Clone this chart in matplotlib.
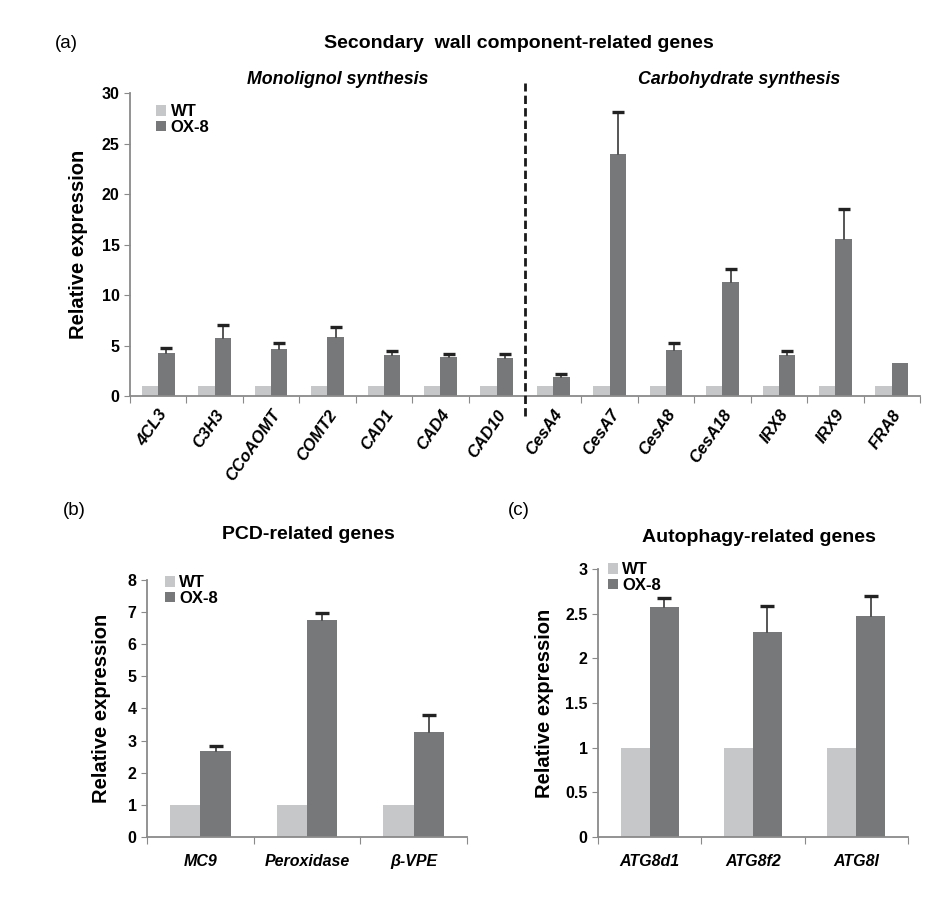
import numpy as np
import matplotlib
matplotlib.use("Agg")
import matplotlib.pyplot as plt

plt.rcParams['font.family'] = ['Liberation Sans', 'DejaVu Sans']

# panel (a) data
genes_a = ['4CL3', 'C3H3', 'CCoAOMT', 'COMT2', 'CAD1', 'CAD4', 'CAD10',
           'CesA4', 'CesA7', 'CesA8', 'CesA18', 'IRX8', 'IRX9', 'FRA8']
wt_a = [1, 1, 1, 1, 1, 1, 1, 1, 1, 1, 1, 1, 1, 1]
ox_a = [4.24, 5.79, 4.70, 5.89, 4.04, 3.87, 3.80,
        1.89, 24.0, 4.60, 11.26, 4.07, 15.56, 3.28]
ox_a_err = [0.50, 1.20, 0.56, 0.90, 0.46, 0.30, 0.37,
            0.30, 4.10, 0.66, 1.32, 0.43, 2.98, 0.0]

# panel (b) data
genes_b = ['MC9', 'Peroxidase', 'β-VPE']
wt_b = [1, 1, 1]
ox_b = [2.68, 6.77, 3.27]
ox_b_err = [0.15, 0.19, 0.52]

# panel (c) data
genes_c = ['ATG8d1', 'ATG8f2', 'ATG8l']
wt_c = [1, 1, 1]
ox_c = [2.57, 2.30, 2.47]
ox_c_err = [0.11, 0.29, 0.23]

WT_COL = '#c6c7c8'
OX_COL = '#77787a'
AX_COL = '#8a8a8a'


def draw_bars(ax, wt, ox, err, width, capw=9):
    x = np.arange(len(wt))
    ax.bar(x - width / 2, wt, width, color=WT_COL, label='WT', zorder=2)
    ax.bar(x + width / 2, ox, width, color=OX_COL, label='OX-8', zorder=2)
    # upper error bars only: stem + cap on top
    for xi, yi, ei in zip(x + width / 2, ox, err):
        if ei <= 0:
            continue
        ax.plot([xi, xi], [yi, yi + ei], color='#555555', lw=1.4, zorder=3)
        ax.plot([xi], [yi + ei], marker='_', ms=capw, mew=2.4, color='#222222', zorder=3)
    ax.set_xlim(-0.5, len(wt) - 0.5)
    ax.spines['top'].set_visible(False)
    ax.spines['right'].set_visible(False)
    for s in ['left', 'bottom']:
        ax.spines[s].set_color(AX_COL)
        ax.spines[s].set_linewidth(1.3)
    # ticks sit between categories on x
    ax.set_xticks(np.arange(len(wt) + 1) - 0.5)
    ax.set_xticklabels([])
    ax.set_xticks(x, minor=True)
    ax.tick_params(axis='x', which='major', direction='out', length=5, color=AX_COL)
    ax.tick_params(axis='x', which='minor', length=0)
    ax.tick_params(axis='y', direction='out', length=4, color=AX_COL, labelsize=11.5)
    ax.set_ylabel('Relative expression', fontsize=14.5, fontweight='bold')
    leg = ax.legend(loc='upper left', frameon=False, handlelength=0.6, handleheight=0.6,
                    handletextpad=0.25, labelspacing=0.05, borderaxespad=0.0,
                    prop={'weight': 'bold', 'size': 12})
    return x, leg


fig = plt.figure(figsize=(9.41, 8.97), dpi=100)

# ---- (a)
ax_a = fig.add_axes([0.1381, 0.5585, 0.8396, 0.3378])
x_a, leg_a = draw_bars(ax_a, wt_a, ox_a, ox_a_err, 0.29)
ax_a.set_ylim(0, 30)
ax_a.set_yticks(range(0, 31, 5))
for t in ax_a.get_yticklabels():
    t.set_fontweight('bold')
ax_a.set_xticklabels(genes_a, minor=True, rotation=55, ha='right', rotation_mode='anchor',
                     fontsize=12, fontweight='bold', fontstyle='italic')
ax_a.tick_params(axis='x', which='minor', pad=8)
ax_a.yaxis.labelpad = 10
leg_a.set_bbox_to_anchor((0.025, 0.985))
ax_a.plot([6.5, 6.5], [-2, 31], ls=(0, (3, 1.5)), color='#1a1a1a', lw=2, clip_on=False, zorder=4)
ax_a.text(0.263, 1.015, 'Monolignol synthesis', transform=ax_a.transAxes, ha='center',
          va='bottom', fontsize=12.8, fontweight='bold', fontstyle='italic')
ax_a.text(0.771, 1.015, 'Carbohydrate synthesis', transform=ax_a.transAxes, ha='center',
          va='bottom', fontsize=12.8, fontweight='bold', fontstyle='italic')
fig.text(0.058, 0.951, '(a)', fontsize=13.5, va='center')
fig.text(0.551, 0.951, 'Secondary  wall component-related genes', fontsize=14,
         fontweight='bold', ha='center', va='center')

# ---- (b)
ax_b = fig.add_axes([0.1562, 0.0669, 0.3401, 0.2865])
x_b, leg_b = draw_bars(ax_b, wt_b, ox_b, ox_b_err, 0.285, capw=10)
ax_b.set_ylim(0, 8)
ax_b.set_yticks(range(0, 9))
for t in ax_b.get_yticklabels():
    t.set_fontweight('bold')
ax_b.set_xticklabels(genes_b, minor=True, fontsize=11.5, fontweight='bold', fontstyle='italic')
ax_b.tick_params(axis='x', which='minor', pad=12)
ax_b.yaxis.labelpad = 12
leg_b.set_bbox_to_anchor((0.035, 1.045))
fig.text(0.067, 0.431, '(b)', fontsize=13.5, va='center')
fig.text(0.328, 0.404, 'PCD-related genes', fontsize=14, fontweight='bold',
         ha='center', va='center')

# ---- (c)
ax_c = fig.add_axes([0.6355, 0.0669, 0.3294, 0.2988])
x_c, leg_c = draw_bars(ax_c, wt_c, ox_c, ox_c_err, 0.28, capw=10)
ax_c.set_ylim(0, 3)
ax_c.set_yticks([0, 0.5, 1, 1.5, 2, 2.5, 3])
ax_c.set_yticklabels(['0', '0.5', '1', '1.5', '2', '2.5', '3'])
for t in ax_c.get_yticklabels():
    t.set_fontweight('bold')
ax_c.set_xticklabels(genes_c, minor=True, fontsize=11.5, fontweight='bold', fontstyle='italic')
ax_c.tick_params(axis='x', which='minor', pad=12)
ax_c.yaxis.labelpad = 8
leg_c.set_bbox_to_anchor((0.01, 1.05))
fig.text(0.540, 0.431, '(c)', fontsize=13.5, va='center')
fig.text(0.807, 0.401, 'Autophagy-related genes', fontsize=14, fontweight='bold',
         ha='center', va='center')

fig.savefig('out.png', dpi=100)
